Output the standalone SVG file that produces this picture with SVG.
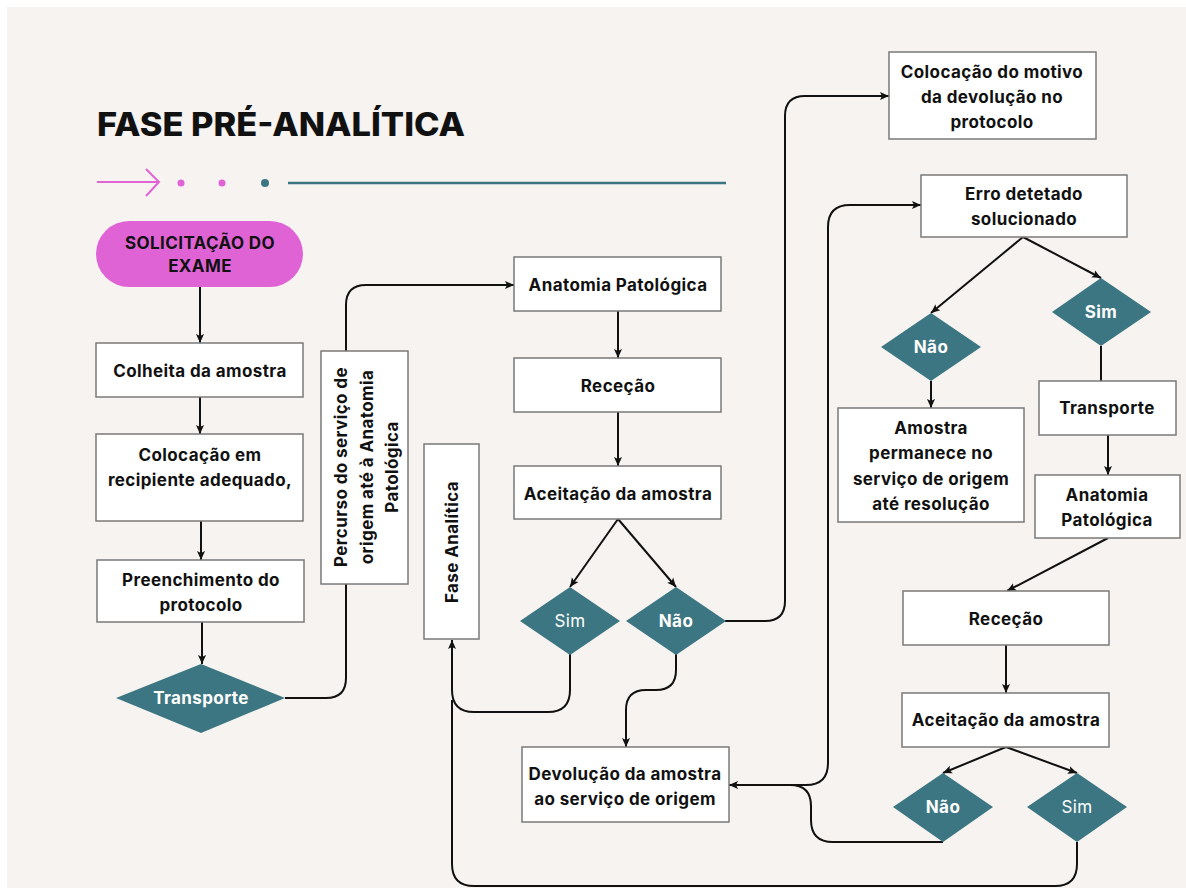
<svg xmlns="http://www.w3.org/2000/svg" width="1186" height="888" viewBox="0 0 1186 888">
<defs>
<marker id="arr" markerUnits="userSpaceOnUse" markerWidth="10" markerHeight="10" viewBox="0 0 10 10" refX="9" refY="5" orient="auto">
<path d="M0,1 L9,5 L0,9 L2,5 Z" fill="#111"/>
</marker>
<style>
.box{fill:#fff;stroke:#7a7a7a;stroke-width:1.5}
.dia{fill:#3c7682}
.t{font-family:Inter,"Liberation Sans",sans-serif;font-weight:700;font-size:17px;letter-spacing:0.4px;fill:#111;text-anchor:middle;dominant-baseline:central}
.w{font-family:Inter,"Liberation Sans",sans-serif;font-weight:700;font-size:17px;letter-spacing:0.4px;fill:#fff;text-anchor:middle;dominant-baseline:central}
.wn{font-weight:400}
.c{fill:none;stroke:#111;stroke-width:2}
.a{marker-end:url(#arr)}
</style>
</defs>
<rect x="0" y="0" width="1186" height="888" fill="#ffffff"/>
<rect x="7" y="7" width="1179" height="881" fill="#f6f3f0"/>

<g id="title">
<text x="97" y="136" font-family="Inter,'Liberation Sans',sans-serif" font-weight="800" font-size="32" fill="#111" textLength="368" lengthAdjust="spacingAndGlyphs">FASE PRÉ-ANALÍTICA</text>
<g id="decor">
<path d="M97,182 H159 M146,169 L159,182 L146,196" fill="none" stroke="#e063d6" stroke-width="2"/>
<circle cx="181" cy="183" r="3.5" fill="#e063d6"/>
<circle cx="222" cy="183" r="3.5" fill="#e063d6"/>
<circle cx="265" cy="183" r="4" fill="#3c7682"/>
<path d="M288,183 H726" stroke="#3c7682" stroke-width="2.5"/>
</g>
</g>

<g id="connectors">
<path class="c a" d="M200,287 V343"/>
<path class="c a" d="M200,397 V434"/>
<path class="c a" d="M201,521 V560"/>
<path class="c a" d="M202,622 V664"/>
<path class="c" d="M285,698 H326 Q346,698 346,678 V584"/>
<path class="c a" d="M346,351 V305 Q346,285 366,285 H514"/>
<path class="c a" d="M618,311 V358"/>
<path class="c a" d="M618,412 V466"/>
<path class="c a" d="M618,519 L570,587"/>
<path class="c a" d="M618,519 L676,587"/>
<path class="c a" d="M570,654 V690 Q570,712 548,712 H474 Q452,712 452,690 V640"/>
<path class="c a" d="M676,654 V670 Q676,690 656,690 H646 Q626,690 626,710 V747"/>
<path class="c a" d="M725,621 H765 Q785,621 785,601 V116 Q785,96 805,96 H889"/>
<path class="c" d="M1077,842 V864 Q1077,886 1055,886 H474 Q452,886 452,864 V700"/>
<path class="c a" d="M943,842 H833 Q811,842 811,820 V806 Q811,785 790,785 H729"/>
<path class="c a" d="M790,785 H806 Q828,785 828,763 V227 Q828,205 850,205 H921"/>
<path class="c a" d="M1023,237 L931,313"/>
<path class="c a" d="M1023,237 L1101,278"/>
<path class="c a" d="M931,381 V408"/>
<path class="c" d="M1101,346 V381"/>
<path class="c a" d="M1108,435 V475"/>
<path class="c a" d="M1108,538 L1007,591"/>
<path class="c a" d="M1006,645 V693"/>
<path class="c a" d="M1006,747 L943,773"/>
<path class="c a" d="M1006,747 L1077,773"/>
</g>

<g id="solicitacao">
<rect x="96" y="221" width="207" height="66" rx="33" fill="#e063d6"/>
<text class="t" x="200" y="243">SOLICITAÇÃO DO</text>
<text class="t" x="200" y="266">EXAME</text>
</g>
<g id="colheita">
<rect class="box" x="96" y="343" width="207" height="54"/>
<text class="t" x="200" y="371">Colheita da amostra</text>
</g>
<g id="colocacao">
<rect class="box" x="96" y="434" width="207" height="87"/>
<text class="t" x="200" y="455">Colocação em</text>
<text class="t" x="200" y="480">recipiente adequado,</text>
</g>
<g id="preenchimento">
<rect class="box" x="97" y="560" width="207" height="62"/>
<text class="t" x="201" y="580">Preenchimento do</text>
<text class="t" x="201" y="605">protocolo</text>
</g>
<g id="transporte1">
<polygon class="dia" points="116,698 201,664 285,698 201,733"/>
<text class="w" x="201" y="698">Transporte</text>
</g>
<g id="percurso">
<rect class="box" x="321" y="351" width="87" height="233"/>
<text class="t" transform="translate(341,467) rotate(-90)" x="0" y="0">Percurso do serviço de</text>
<text class="t" transform="translate(367,467) rotate(-90)" x="0" y="0">origem até à Anatomia</text>
<text class="t" transform="translate(392,467) rotate(-90)" x="0" y="0">Patológica</text>
</g>
<g id="fase-analitica">
<rect class="box" x="424" y="444" width="55" height="195"/>
<text class="t" transform="translate(452,542) rotate(-90)" x="0" y="0">Fase Analítica</text>
</g>
<g id="anatomia1">
<rect class="box" x="514" y="257" width="207" height="54"/>
<text class="t" x="618" y="285">Anatomia Patológica</text>
</g>
<g id="rececao1">
<rect class="box" x="514" y="358" width="207" height="54"/>
<text class="t" x="618" y="386">Receção</text>
</g>
<g id="aceitacao1">
<rect class="box" x="514" y="466" width="207" height="53"/>
<text class="t" x="618" y="494">Aceitação da amostra</text>
</g>
<g id="sim1">
<polygon class="dia" points="520,621 570,587 620,621 570,655"/>
<text class="w wn" x="570" y="621">Sim</text>
</g>
<g id="nao1">
<polygon class="dia" points="626,621 676,587 726,621 676,655"/>
<text class="w" x="676" y="621">Não</text>
</g>
<g id="devolucao">
<rect class="box" x="522" y="747" width="207" height="75"/>
<text class="t" x="625" y="774">Devolução da amostra</text>
<text class="t" x="625" y="799">ao serviço de origem</text>
</g>
<g id="motivo">
<rect class="box" x="889" y="52" width="207" height="87"/>
<text class="t" x="992" y="72">Colocação do motivo</text>
<text class="t" x="992" y="97">da devolução no</text>
<text class="t" x="992" y="122">protocolo</text>
</g>
<g id="erro">
<rect class="box" x="921" y="175" width="206" height="62"/>
<text class="t" x="1024" y="194">Erro detetado</text>
<text class="t" x="1024" y="219">solucionado</text>
</g>
<g id="nao3">
<polygon class="dia" points="881,347 931,313 981,347 931,381"/>
<text class="w" x="931" y="347">Não</text>
</g>
<g id="sim3">
<polygon class="dia" points="1052,312 1101,278 1151,312 1101,346"/>
<text class="w" x="1101" y="312">Sim</text>
</g>
<g id="amostra">
<rect class="box" x="838" y="408" width="186" height="114"/>
<text class="t" x="931" y="428">Amostra</text>
<text class="t" x="931" y="453">permanece no</text>
<text class="t" x="931" y="479">serviço de origem</text>
<text class="t" x="931" y="504">até resolução</text>
</g>
<g id="transporte2">
<rect class="box" x="1039" y="381" width="137" height="54"/>
<text class="t" x="1107" y="408">Transporte</text>
</g>
<g id="anatomia2">
<rect class="box" x="1035" y="475" width="145" height="63"/>
<text class="t" x="1107" y="495">Anatomia</text>
<text class="t" x="1107" y="520">Patológica</text>
</g>
<g id="rececao2">
<rect class="box" x="903" y="591" width="206" height="54"/>
<text class="t" x="1006" y="619">Receção</text>
</g>
<g id="aceitacao2">
<rect class="box" x="902" y="693" width="207" height="54"/>
<text class="t" x="1006" y="720">Aceitação da amostra</text>
</g>
<g id="nao2">
<polygon class="dia" points="893,807 943,773 993,807 943,842"/>
<text class="w" x="943" y="807">Não</text>
</g>
<g id="sim2">
<polygon class="dia" points="1027,807 1077,773 1127,807 1077,842"/>
<text class="w wn" x="1077" y="807">Sim</text>
</g>
</svg>
